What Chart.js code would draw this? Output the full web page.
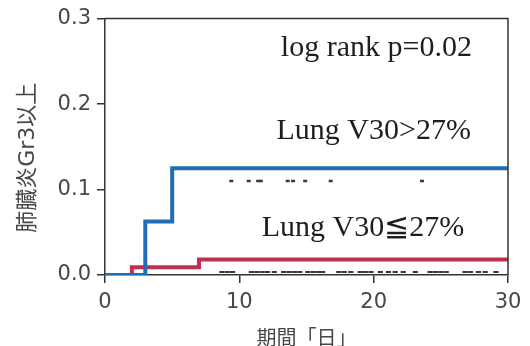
<!DOCTYPE html>
<html>
<head>
<meta charset="utf-8">
<script src="https://cdn.jsdelivr.net/npm/chart.js@4.4.0/dist/chart.umd.min.js"></script>
<style>
  html, body { margin: 0; padding: 0; background: #ffffff; overflow: hidden; }
  canvas { display: block; }
</style>
</head>
<body>
<canvas id="c" width="530" height="346"></canvas>
<script>
// ---- data ----
const xTicks = [0, 10, 20, 30];
const yTicks = [0, 0.1, 0.2, 0.3];
const yTickLabels = ['0.0', '0.1', '0.2', '0.3'];

// V30 > 27% (cumulative incidence, step curve)
const highDays = [0, 3, 5, 30];
const highValues = [0, 0.0625, 0.125, 0.125];
// censor marks for V30 > 27%
const highCensorDays = [9.4, 10.7, 11.4, 11.6, 13.6, 14.0, 14.9, 16.8, 23.6];
const highCensorValue = 0.110;

// V30 <= 27%
const lowDays = [0, 2, 7, 30];
const lowValues = [0, 0.009, 0.018, 0.018];
// censor marks for V30 <= 27%
const lowCensorDays = [8.7, 9.1, 9.5, 10.9, 11.3, 11.7, 12.1, 12.6, 13.3, 13.7, 14.1, 14.5,
  15.1, 15.5, 15.9, 16.2, 17.4, 17.8, 18.3, 19.0, 19.4, 19.8, 20.5, 21.1, 21.6, 22.2, 23.1,
  24.2, 24.6, 25.0, 25.4, 26.8, 27.2, 27.8, 28.3, 29.1];
const lowCensorValue = 0.0035;

const annotationTexts = ['log rank p=0.02', 'Lung V30>27%', 'Lung V30≦27%'];
const annotationX = [20.2, 20.0, 19.2];
const annotationY = [0.256, 0.159, 0.046];

const yTitle = '肺臓炎Gr3以上';
const xTitle = '期間「日」';

// ---- build ----
const toPts = (xs, ys) => xs.map((x, i) => ({ x: x, y: ys[i] }));
const toConst = (xs, v) => xs.map(x => ({ x: x, y: v }));

const BLUE = '#1f6db4';
const RED = '#c12f50';
const AXIS = '#333333';
const TICKTXT = '#474747';

const frame = {
  id: 'frame',
  afterDatasetsDraw(chart) {
    const { ctx, chartArea: a } = chart;
    ctx.save();
    ctx.strokeStyle = AXIS;
    ctx.lineWidth = 1.5;
    ctx.beginPath();
    ctx.moveTo(a.left, a.top);
    ctx.lineTo(a.right, a.top);
    ctx.lineTo(a.right, a.bottom);
    ctx.stroke();
    ctx.restore();
  }
};

const notes = {
  id: 'notes',
  afterDraw(chart) {
    const { ctx, scales } = chart;
    ctx.save();
    ctx.fillStyle = '#1e1e1e';
    ctx.font = '30px "Liberation Serif", "Times New Roman", serif';
    ctx.textAlign = 'center';
    ctx.textBaseline = 'alphabetic';
    annotationTexts.forEach((t, i) => {
      ctx.fillText(t, scales.x.getPixelForValue(annotationX[i]), scales.y.getPixelForValue(annotationY[i]));
    });
    ctx.restore();
  }
};

new Chart(document.getElementById('c'), {
  type: 'line',
  data: {
    datasets: [
      {
        label: 'Lung V30>27%',
        data: toPts(highDays, highValues),
        borderColor: BLUE,
        borderWidth: 4,
        stepped: true,
        pointRadius: 0,
        fill: false
      },
      {
        label: 'Lung V30≦27%',
        data: toPts(lowDays, lowValues),
        borderColor: RED,
        borderWidth: 4,
        stepped: true,
        pointRadius: 0,
        fill: false
      },
      {
        label: 'censor high',
        data: toConst(highCensorDays, highCensorValue),
        showLine: false,
        pointStyle: 'line',
        pointRadius: 2,
        borderColor: '#3a3a3a',
        borderWidth: 2.5,
        backgroundColor: '#3a3a3a'
      },
      {
        label: 'censor low',
        data: toConst(lowCensorDays, lowCensorValue),
        showLine: false,
        pointStyle: 'line',
        pointRadius: 2.6,
        borderColor: '#3a3a3a',
        borderWidth: 2,
        backgroundColor: '#3a3a3a'
      }
    ]
  },
  options: {
    responsive: false,
    animation: false,
    layout: { padding: { top: 15, right: 22, left: 0, bottom: 0 } },
    plugins: { legend: { display: false }, tooltip: { enabled: false } },
    elements: { point: { hoverRadius: 0 } },
    scales: {
      x: {
        type: 'linear',
        min: 0,
        max: 30,
        afterBuildTicks: s => { s.ticks = xTicks.map(v => ({ value: v })); },
        afterFit: s => { s.height = 71; },
        grid: { display: true, drawOnChartArea: false, drawTicks: true, tickLength: 8, color: AXIS, lineWidth: 1.5 },
        border: { display: true, color: AXIS, width: 1.5 },
        ticks: {
          color: TICKTXT,
          padding: 7,
          maxRotation: 0,
          font: { family: '"DejaVu Sans", Verdana, sans-serif', size: 21 }
        },
        title: {
          display: true,
          text: xTitle,
          color: TICKTXT,
          font: { family: '"Noto Sans CJK JP", sans-serif', size: 20, lineHeight: 1 },
          padding: { top: 0, bottom: -1 }
        }
      },
      y: {
        type: 'linear',
        min: 0,
        max: 0.3,
        afterBuildTicks: s => { s.ticks = yTicks.map(v => ({ value: v })); },
        afterFit: s => { s.width = 105; },
        grid: { display: true, drawOnChartArea: false, drawTicks: true, tickLength: 8, color: AXIS, lineWidth: 1.5 },
        border: { display: true, color: AXIS, width: 1.5 },
        ticks: {
          color: TICKTXT,
          padding: 6,
          callback: (v, i) => yTickLabels[i],
          font: { family: '"DejaVu Sans", Verdana, sans-serif', size: 21 }
        },
        title: {
          display: true,
          text: yTitle + '\u3000',
          color: TICKTXT,
          font: { family: '"DejaVu Sans", "Noto Sans CJK JP", sans-serif', size: 22, lineHeight: 1 },
          padding: { top: 17, bottom: 0 }
        }
      }
    }
  },
  plugins: [frame, notes]
});
</script>
</body>
</html>
